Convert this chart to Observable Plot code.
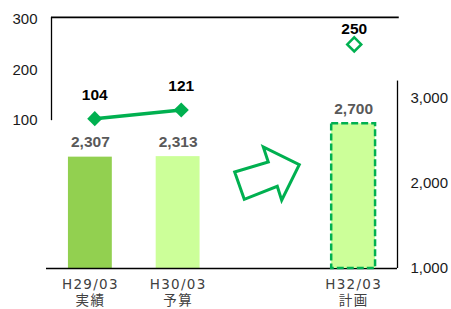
<!DOCTYPE html>
<html>
<head>
<meta charset="utf-8">
<script src="https://cdn.jsdelivr.net/npm/d3@7"></script>
<script src="https://cdn.jsdelivr.net/npm/@observablehq/plot@0.6"></script>
<style>
  html, body { margin: 0; padding: 0; background: #fff; }
  #chart { width: 451px; height: 309px; }
</style>
</head>
<body>
<div id="chart"></div>
<script>
// ---- data ----
const categories   = ["H29/03", "H30/03", "", "H32/03"];
const categorySubs = ["実績", "予算", "", "計画"];
const barValues    = [2307, 2313, null, 2700];     // right axis
const lineValues   = [104, 121, null, 250];        // left axis
const rightTicks   = [1000, 2000, 3000];
const leftTicks    = [100, 200, 300];

// ---- derived tables ----
const rows = categories.map((c, i) => ({i, cat: c, sub: categorySubs[i], bar: barValues[i], line: lineValues[i]}));
const barRows = rows.filter(d => d.bar != null);
const solidBars = barRows.filter(d => d.i < 2);
const planBars = barRows.filter(d => d.i >= 2);
const lineRows = rows.filter(d => d.line != null);
const actualLine = lineRows.filter(d => d.i < 2);
const planLine = lineRows.filter(d => d.i >= 2);
const labelRows = rows.filter(d => d.cat !== "");

// secondary (left) axis aligned onto the primary y scale
const leftU = d3.scaleLinear([100, 300], [2735, 3929]);
const leftTop = 303;
// secondary category axis starts at the left value axis
const x0 = 0.057;
const lineX = d => x0 + (d.i + 0.5) * (4 - x0) / 4;

const barColors = ["#92D050", "#CCFF99", "#CCFF99", "#CCFF99"];
const green = "#00B050";
const fmt = d3.format(",");

const arrowMark = (index, scales) => {
  const cx = scales.x(2.5), cy = scales.y(2100);
  const pts = [[-30.7,-2.3],[2.9,-12.3],[-2.1,-27.3],[33.9,-9.7],[16.3,26],[11.9,12],[-21.1,25]];
  const ns = "http://www.w3.org/2000/svg";
  const p = document.createElementNS(ns, "polygon");
  p.setAttribute("points", pts.map(([dx, dy]) => `${cx + dx},${cy + dy}`).join(" "));
  p.setAttribute("fill", "white");
  p.setAttribute("stroke", green);
  p.setAttribute("stroke-width", 3);
  p.setAttribute("stroke-linejoin", "miter");
  return p;
};

const chart = Plot.plot({
  width: 451,
  height: 309,
  marginLeft: 46,
  marginRight: 54,
  marginTop: 17,
  marginBottom: 41,
  style: {fontFamily: "'Liberation Sans', Arial, sans-serif", fontSize: "15px", color: "#1a1a1a", background: "white"},
  x: {type: "linear", domain: [0, 4], range: [46, 397], axis: null},
  y: {domain: [1000, 3000], range: [268, 97.6]},
  color: {type: "identity"},
  marks: [
    Plot.rectY(solidBars, {x1: d => d.i + 0.25, x2: d => d.i + 0.75, y1: 1000, y2: d => d.bar, fill: d => barColors[d.i]}),
    // frame lines
    Plot.ruleY([1000], {x1: 0, x2: 4, stroke: "black", strokeWidth: 1.5}),
    Plot.ruleX([4], {y1: 1000, y2: 3200, stroke: "black", strokeWidth: 1.3}),
    Plot.ruleX([x0], {y1: leftU(100), y2: leftU(leftTop), stroke: "black", strokeWidth: 1.3}),
    Plot.ruleY([leftU(leftTop)], {x1: x0, x2: 4.02, stroke: "black", strokeWidth: 1.6}),
    // plan bar
    Plot.rectY(planBars, {x1: d => d.i + 0.25, x2: d => d.i + 0.75, y1: 1000, y2: d => d.bar, fill: d => barColors[d.i], stroke: green, strokeWidth: 2.5, strokeDasharray: "7,3"}),
    // axes
    Plot.axisY(rightTicks, {anchor: "right", tickSize: 0, tickPadding: 13, tickFormat: fmt, fontSize: 15, fill: "#1a1a1a"}),
    Plot.axisY(leftTicks.map(v => leftU(v)), {anchor: "left", tickSize: 0, tickPadding: 9, tickFormat: u => String(Math.round(leftU.invert(u))), fontSize: 15, fill: "#1a1a1a"}),
    // category labels
    Plot.text(labelRows, {x: d => d.i + 0.5, y: 1000, text: d => d.cat + "\n" + d.sub, lineAnchor: "top", dy: 9, lineHeight: 1.2, fontSize: 13.5, fill: "#404040", fontFamily: "'DejaVu Sans', 'Noto Sans CJK JP', sans-serif", ariaLabel: "category-labels"}),
    // bar value labels
    Plot.text(barRows, {x: d => d.i + 0.5, y: d => d.bar, text: d => fmt(d.bar), dy: -15, fontSize: 15.5, fontWeight: "bold", fill: "#595959"}),
    // arrow
    arrowMark,
    // line series
    Plot.line(actualLine, {x: lineX, y: d => leftU(d.line), stroke: green, strokeWidth: 3.5}),
    Plot.dot(actualLine, {x: lineX, y: d => leftU(d.line), symbol: "diamond2", r: 6.8, fill: green, stroke: "none"}),
    Plot.dot(planLine, {x: lineX, y: d => leftU(d.line), symbol: "diamond2", r: 6.3, fill: "white", stroke: green, strokeWidth: 2.5}),
    Plot.text(actualLine, {x: lineX, y: d => leftU(d.line), text: d => String(d.line), dy: -24, fontSize: 15.5, fontWeight: "bold", fill: "#000"}),
    Plot.text(planLine, {x: lineX, y: d => leftU(d.line), text: d => String(d.line), dy: -15, fontSize: 15.5, fontWeight: "bold", fill: "#000"})
  ]
});
// widen the category label lettering like the reference
d3.select(chart).selectAll("text").filter(function() {
  return /H\d\d\/\d\d/.test(this.textContent);
}).attr("letter-spacing", "1.3px").style("letter-spacing", "1.3px");
document.getElementById("chart").appendChild(chart);
</script>
</body>
</html>
